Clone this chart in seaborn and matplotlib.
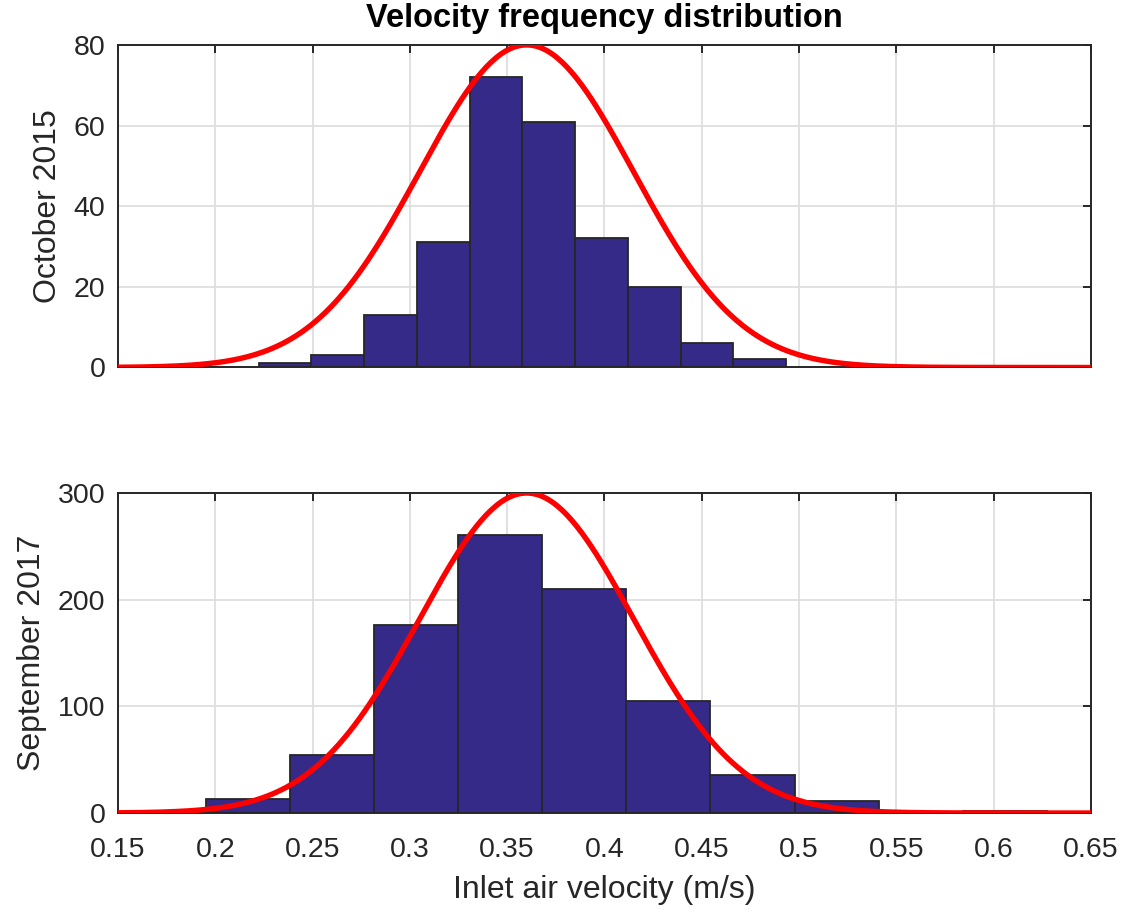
import numpy as np
import pandas as pd
import matplotlib
matplotlib.use("Agg")
import matplotlib.pyplot as plt
import seaborn as sns

# ---- data ----
title = "Velocity frequency distribution"
xlabel = "Inlet air velocity (m/s)"
panel_labels = ["October 2015", "September 2017"]

oct_counts = [1, 3, 13, 31, 72, 61, 32, 20, 6, 2]
oct_bin_start = 0.2223
oct_bin_width = 0.0271

sep_counts = [13, 54, 176, 261, 210, 105, 36, 11, 0, 2]
sep_bin_start = 0.195
sep_bin_width = 0.04325

# fitted normal curves (mean, std, peak height)
oct_fit = (0.36, 0.055, 80)
sep_fit = (0.36, 0.055, 300)

xticks = [0.15, 0.2, 0.25, 0.3, 0.35, 0.4, 0.45, 0.5, 0.55, 0.6, 0.65]
xticklabels = ["0.15", "0.2", "0.25", "0.3", "0.35", "0.4", "0.45", "0.5", "0.55", "0.6", "0.65"]
oct_yticks = [0, 20, 40, 60, 80]
sep_yticks = [0, 100, 200, 300]

# ---- styling ----
sns.set_theme(style="white")
plt.rcParams["font.family"] = ["Liberation Sans", "DejaVu Sans"]
dark = "#262626"
bar_color = "#352a87"

fig = plt.figure(figsize=(11.24, 9.13), dpi=100)
ax1 = fig.add_axes([0.105, 0.5975, 0.8655, 0.3533])
ax2 = fig.add_axes([0.105, 0.1095, 0.8655, 0.3505])

def draw(ax, counts, start, width, fit, yticks, ylabel, show_x):
    n = len(counts)
    edges = [float(start + width * i) for i in range(n + 1)]
    centers = [(edges[i] + edges[i + 1]) / 2 for i in range(n)]
    df = pd.DataFrame({"v": centers, "w": counts})
    sns.histplot(data=df, x="v", weights="w", bins=edges, ax=ax,
                 color=bar_color, alpha=1.0, edgecolor=dark, linewidth=1.3,
                 zorder=2)
    mu, sd, peak = fit
    xs = np.linspace(xticks[0], xticks[-1], 400)
    ys = peak * np.exp(-0.5 * ((xs - mu) / sd) ** 2)
    sns.lineplot(x=xs, y=ys, ax=ax, color="#ff0000", linewidth=3.9, zorder=3)
    ax.set_xlim(xticks[0], xticks[-1])
    ax.set_ylim(yticks[0], yticks[-1])
    ax.set_xticks(xticks)
    ax.set_yticks(yticks)
    ax.set_yticklabels([str(t) for t in yticks])
    if show_x:
        ax.set_xticklabels(xticklabels)
        ax.set_xlabel(xlabel, fontsize=23, color=dark, labelpad=9)
    else:
        ax.set_xticklabels([])
        ax.set_xlabel("")
    ax.set_ylabel(ylabel, fontsize=23, color=dark, labelpad=8)
    ax.grid(True, color="#dedede", linewidth=1.3)
    ax.set_axisbelow(True)
    for s in ax.spines.values():
        s.set_visible(True)
        s.set_color(dark)
        s.set_linewidth(1.4)
    ax.tick_params(direction="in", top=True, right=True, length=6, width=1.4,
                   colors=dark, labelsize=20.5)
    ax.tick_params(axis="x", pad=17)
    ax.tick_params(axis="y", pad=9)

draw(ax1, oct_counts, oct_bin_start, oct_bin_width, oct_fit, oct_yticks, panel_labels[0], False)
draw(ax2, sep_counts, sep_bin_start, sep_bin_width, sep_fit, sep_yticks, panel_labels[1], True)
ax1.set_title(title, fontsize=23.5, fontweight="bold", color="black", pad=13)

fig.savefig("out.png", dpi=100)
